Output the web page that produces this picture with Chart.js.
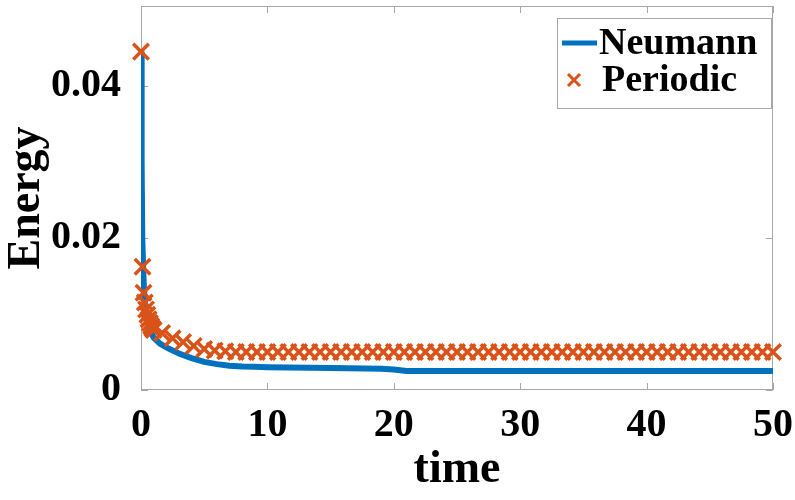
<!DOCTYPE html>
<html>
<head>
<meta charset="utf-8">
<script src="https://cdn.jsdelivr.net/npm/chart.js@4/dist/chart.umd.min.js"></script>
<style>
  html, body { margin: 0; padding: 0; background: #fff; }
  #wrap { width: 795px; height: 500px; }
</style>
</head>
<body>
<div id="wrap"><canvas id="energy" width="795" height="500"></canvas></div>
<script>
// values
const neumannTime = [0, 0.05, 0.1, 0.2, 0.3, 0.5, 0.7, 1, 1.5, 2, 3, 4, 5, 6, 7, 8, 9, 10, 15, 19, 20, 21, 30, 40, 50];
const neumannEnergy = [0.0445, 0.03, 0.02, 0.0145, 0.0115, 0.0092, 0.0078, 0.0069, 0.0061, 0.0056, 0.0048, 0.0042, 0.0037, 0.0034, 0.0032, 0.0031, 0.00305, 0.003, 0.0029, 0.0028, 0.0027, 0.0025, 0.0025, 0.0025, 0.0025];

const periodicTime = [0, 0.12, 0.2, 0.3, 0.4, 0.5, 0.6, 0.7, 0.8, 0.9, 1.0,
  1.67, 2.5, 3.33, 4.17, 5, 5.83, 6.67, 7.5, 8.33, 9.17, 10,
  10.83, 11.67, 12.5, 13.33, 14.17, 15, 15.83, 16.67, 17.5, 18.33, 19.17, 20,
  20.83, 21.67, 22.5, 23.33, 24.17, 25, 25.83, 26.67, 27.5, 28.33, 29.17, 30,
  30.83, 31.67, 32.5, 33.33, 34.17, 35, 35.83, 36.67, 37.5, 38.33, 39.17, 40,
  40.83, 41.67, 42.5, 43.33, 44.17, 45, 45.83, 46.67, 47.5, 48.33, 49.17, 50];
const periodicEnergy = [0.0445, 0.0162, 0.0128, 0.0115, 0.0106, 0.0099, 0.0093, 0.0088, 0.0084, 0.0081, 0.0079,
  0.0075, 0.0068, 0.0063, 0.0058, 0.0054, 0.0052, 0.0051, 0.005, 0.005, 0.005, 0.005,
  0.005, 0.005, 0.005, 0.005, 0.005, 0.005, 0.005, 0.005, 0.005, 0.005, 0.005, 0.005,
  0.005, 0.005, 0.005, 0.005, 0.005, 0.005, 0.005, 0.005, 0.005, 0.005, 0.005, 0.005,
  0.005, 0.005, 0.005, 0.005, 0.005, 0.005, 0.005, 0.005, 0.005, 0.005, 0.005, 0.005,
  0.005, 0.005, 0.005, 0.005, 0.005, 0.005, 0.005, 0.005, 0.005, 0.005, 0.005, 0.005];

const xTicks = [0, 10, 20, 30, 40, 50];
const yTicks = [0, 0.02, 0.04];
const yTickLabels = ['0', '0.02', '0.04'];

const BLUE = '#0072BD';
const ORANGE = '#D95319';
const AXIS = '#a8a8a8';
const SERIF = '"Liberation Serif", "Times New Roman", serif';

const toPoints = (xs, ys) => xs.map((x, i) => ({ x: x, y: ys[i] }));

// box round the plot with inward ticks on all four sides, like matlab
const boxPlugin = {
    id: 'box',
    beforeDatasetsDraw(chart) {
        const { ctx, chartArea: a, scales } = chart;
        const len = 7;
        ctx.save();
        ctx.strokeStyle = AXIS;
        ctx.lineWidth = 1;
        ctx.strokeRect(a.left + 0.5, a.top + 0.5, a.right - a.left - 1, a.bottom - a.top - 1);
        ctx.beginPath();
        xTicks.forEach(v => {
            const px = Math.round(scales.x.getPixelForValue(v)) + 0.5;
            ctx.moveTo(px, a.bottom); ctx.lineTo(px, a.bottom - len);
            ctx.moveTo(px, a.top); ctx.lineTo(px, a.top + len);
        });
        yTicks.forEach(v => {
            const py = Math.round(scales.y.getPixelForValue(v)) + 0.5;
            ctx.moveTo(a.left, py); ctx.lineTo(a.left + len, py);
            ctx.moveTo(a.right, py); ctx.lineTo(a.right - len, py);
        });
        ctx.stroke();
        ctx.restore();
    }
};

// legend sits inside the plot, top right
const insideLegend = {
    id: 'insideLegend',
    afterDraw(chart) {
        const ctx = chart.ctx;
        const ds = chart.data.datasets;
        const x0 = 557, y0 = 18, w = 214, h = 90;
        ctx.save();
        ctx.fillStyle = '#fff';
        ctx.fillRect(x0, y0, w, h);
        ctx.strokeStyle = AXIS;
        ctx.lineWidth = 1;
        ctx.strokeRect(x0 + 0.5, y0 + 0.5, w, h);
        ctx.font = 'bold 38px ' + SERIF;
        ctx.fillStyle = '#000';
        ctx.textBaseline = 'middle';
        // Neumann
        ctx.strokeStyle = BLUE;
        ctx.lineWidth = 5;
        ctx.beginPath();
        ctx.moveTo(562, 43); ctx.lineTo(597, 43);
        ctx.stroke();
        ctx.fillText(ds[0].label, 599, 44);
        // Periodic
        ctx.strokeStyle = ORANGE;
        ctx.lineWidth = 3;
        ctx.beginPath();
        ctx.moveTo(568, 74); ctx.lineTo(580, 86);
        ctx.moveTo(580, 74); ctx.lineTo(568, 86);
        ctx.stroke();
        ctx.fillText(ds[1].label, 602, 81);
        ctx.restore();
    }
};

new Chart(document.getElementById('energy'), {
    type: 'scatter',
    data: {
        datasets: [
            {
                label: 'Neumann',
                data: toPoints(neumannTime, neumannEnergy),
                showLine: true,
                borderColor: BLUE,
                borderWidth: 6,
                pointRadius: 0,
                tension: 0,
                order: 2
            },
            {
                label: 'Periodic',
                data: toPoints(periodicTime, periodicEnergy),
                showLine: false,
                pointStyle: 'crossRot',
                pointRadius: 11,
                pointBorderWidth: 3.5,
                borderColor: ORANGE,
                backgroundColor: ORANGE,
                clip: 12,
                order: 1
            }
        ]
    },
    options: {
        responsive: false,
        animation: false,
        layout: { autoPadding: false, padding: { top: 6, right: 22, left: 0, bottom: 0 } },
        plugins: {
            legend: { display: false },
            tooltip: { enabled: false }
        },
        scales: {
            x: {
                type: 'linear',
                min: 0,
                max: 50,
                afterFit: s => { s.height = 110; s.paddingLeft = 0; s.paddingRight = 0; },
                afterBuildTicks: s => { s.ticks = xTicks.map(v => ({ value: v })); },
                grid: { display: false },
                border: { display: false },
                ticks: {
                    color: '#000',
                    padding: 4,
                    maxRotation: 0,
                    font: { family: SERIF, size: 40, weight: 'bold' }
                },
                title: {
                    display: true,
                    text: 'time',
                    color: '#000',
                    padding: { top: 0, bottom: 2 },
                    font: { family: SERIF, size: 46, weight: 'bold' }
                }
            },
            y: {
                type: 'linear',
                min: 0,
                max: 0.0505,
                afterFit: s => { s.width = 141; s.paddingTop = 0; s.paddingBottom = 0; },
                afterBuildTicks: s => { s.ticks = yTicks.map(v => ({ value: v })); },
                grid: { display: false },
                border: { display: false },
                ticks: {
                    color: '#000',
                    padding: 12,
                    font: { family: SERIF, size: 40, weight: 'bold' },
                    callback: (v, i) => yTickLabels[i]
                },
                title: {
                    display: true,
                    text: 'Energy',
                    color: '#000',
                    padding: { top: 0, bottom: 0 },
                    font: { family: SERIF, size: 46, weight: 'bold' }
                }
            }
        }
    },
    plugins: [boxPlugin, insideLegend]
});
</script>
</body>
</html>
